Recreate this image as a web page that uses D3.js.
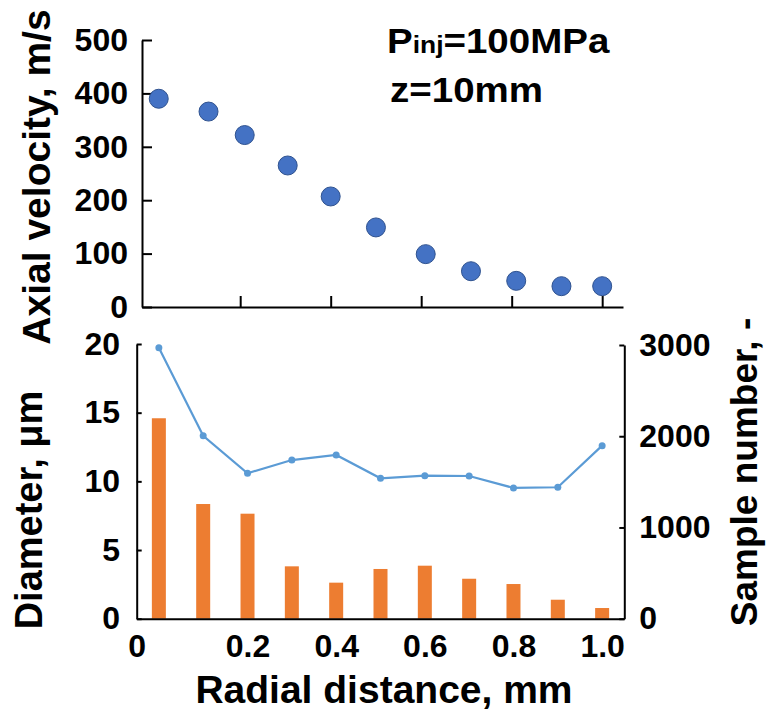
<!DOCTYPE html>
<html>
<head>
<meta charset="utf-8">
<script src="https://cdn.jsdelivr.net/npm/d3@7"></script>
<style>
  body { margin: 0; background: #fff; }
  text { font-family: Arial, "Liberation Sans", sans-serif; font-weight: bold; }
</style>
</head>
<body>
<div id="my_dataviz"></div>
<script>
// top panel: axial velocity
var velR = [0.02, 0.13, 0.21, 0.305, 0.40, 0.50, 0.61, 0.71, 0.81, 0.91, 1.0];
var velocity = [390, 366, 322, 265, 207, 149, 99, 67, 49, 39, 39];
var velTicks = [0, 100, 200, 300, 400, 500];
var velXTicks = [0.2, 0.4, 0.6, 0.8, 1.0];

// bottom panel: droplet diameter (line) and sample number (bars)
var radial = [0, 0.1, 0.2, 0.3, 0.4, 0.5, 0.6, 0.7, 0.8, 0.9, 1.0];
var diameter = [19.73, 13.32, 10.59, 11.55, 11.92, 10.22, 10.41, 10.39, 9.52, 9.57, 12.6];
var samples = [2197, 1257, 1151, 574, 395, 545, 581, 438, 380, 208, 117];
var diamTicks = [0, 5, 10, 15, 20];
var sampleTicks = [0, 1000, 2000, 3000];
var radialTicks = [-0.05, 0.2, 0.4, 0.6, 0.8, 1.0];

var width = 766, height = 711;

var svg = d3.select("#my_dataviz")
  .append("svg")
    .attr("width", width)
    .attr("height", height);

function styleAxis(g) {
  g.select(".domain").attr("stroke", "#000").attr("stroke-width", 2);
  g.selectAll(".tick line").attr("stroke", "#000").attr("stroke-width", 2);
  g.selectAll(".tick text")
    .attr("fill", "#000")
    .style("font-size", "32px")
    .style("font-weight", "bold")
    .style("font-family", "Arial, 'Liberation Sans', sans-serif");
}

// ---------- top panel ----------
var xTop = d3.scaleLinear().domain([-0.017, 1.046]).range([142, 623]);
var yTop = d3.scaleLinear().domain([0, 500]).range([307, 40]);

svg.append("g")
  .attr("transform", "translate(0,307)")
  .call(d3.axisBottom(xTop).tickValues(velXTicks).tickSize(-11).tickSizeOuter(0).tickFormat(""))
  .call(styleAxis);

svg.append("g")
  .attr("transform", "translate(142,0)")
  .call(d3.axisLeft(yTop).tickValues(velTicks).tickSize(-10).tickSizeOuter(0).tickPadding(14))
  .call(styleAxis);

svg.append("g")
  .selectAll("circle")
  .data(velocity)
  .enter().append("circle")
    .attr("cx", function(d, i) { return xTop(velR[i]); })
    .attr("cy", function(d) { return yTop(d); })
    .attr("r", 9.5)
    .attr("fill", "#4472C4")
    .attr("stroke", "#2F528F")
    .attr("stroke-width", 1);

svg.append("text")
  .attr("transform", "rotate(-90)")
  .attr("x", -177)
  .attr("y", 50)
  .style("text-anchor", "middle")
  .style("font-size", "39px")
  .text("Axial velocity, m/s");

// annotation
var note = svg.append("g").attr("transform", "translate(387,53) scale(1.1,1)");
var t1 = note.append("text").style("font-size", "35px");
t1.append("tspan").text("P");
t1.append("tspan").style("font-size", "24px").text("inj");
t1.append("tspan").text("=100MPa");
svg.append("g").attr("transform", "translate(390,102) scale(1.1,1)")
  .append("text").style("font-size", "35px").text("z=10mm");

// ---------- bottom panel ----------
var xBot = d3.scaleLinear().domain([-0.05, 1.05]).range([136.7, 624.3]);
var yDiam = d3.scaleLinear().domain([0, 20]).range([618.7, 344]);
var ySamp = d3.scaleLinear().domain([0, 3000]).range([618.7, 345]);

// bars: sample number
svg.append("g")
  .selectAll("rect")
  .data(samples)
  .enter().append("rect")
    .attr("x", function(d, i) { return xBot(radial[i]) - 7; })
    .attr("y", function(d) { return ySamp(d); })
    .attr("width", 14)
    .attr("height", function(d) { return ySamp(0) - ySamp(d); })
    .attr("fill", "#ED7D31");

// line: diameter
var line = d3.line()
  .x(function(d, i) { return xBot(radial[i]); })
  .y(function(d) { return yDiam(d); });

svg.append("path")
  .datum(diameter)
  .attr("fill", "none")
  .attr("stroke", "#5B9BD5")
  .attr("stroke-width", 2.2)
  .attr("d", line);

svg.append("g")
  .selectAll("circle")
  .data(diameter)
  .enter().append("circle")
    .attr("cx", function(d, i) { return xBot(radial[i]); })
    .attr("cy", function(d) { return yDiam(d); })
    .attr("r", 3.5)
    .attr("fill", "#5B9BD5");

svg.append("g")
  .attr("transform", "translate(0,618.7)")
  .call(d3.axisBottom(xBot).tickValues(radialTicks).tickSize(0).tickPadding(16)
    .tickFormat(function(d) { return d < 0 ? "0" : d3.format(".1f")(d); }))
  .call(styleAxis);

svg.append("g")
  .attr("transform", "translate(136.7,0)")
  .call(d3.axisLeft(yDiam).tickValues(diamTicks).tickSize(-5).tickSizeOuter(0).tickPadding(16.7))
  .call(styleAxis);

svg.append("g")
  .attr("transform", "translate(624.3,0)")
  .call(d3.axisRight(ySamp).tickValues(sampleTicks).tickSize(-5).tickSizeOuter(0).tickPadding(15)
    .tickFormat(d3.format("d")))
  .call(styleAxis);

svg.append("text")
  .attr("transform", "rotate(-90)")
  .attr("x", -510)
  .attr("y", 42)
  .style("text-anchor", "middle")
  .style("font-size", "38px")
  .text("Diameter, μm");

svg.append("text")
  .attr("transform", "rotate(-90)")
  .attr("x", -472)
  .attr("y", 757)
  .style("text-anchor", "middle")
  .style("font-size", "37px")
  .text("Sample number, -");

svg.append("text")
  .attr("x", 384)
  .attr("y", 703)
  .style("text-anchor", "middle")
  .style("font-size", "39px")
  .text("Radial distance, mm");
</script>
</body>
</html>
